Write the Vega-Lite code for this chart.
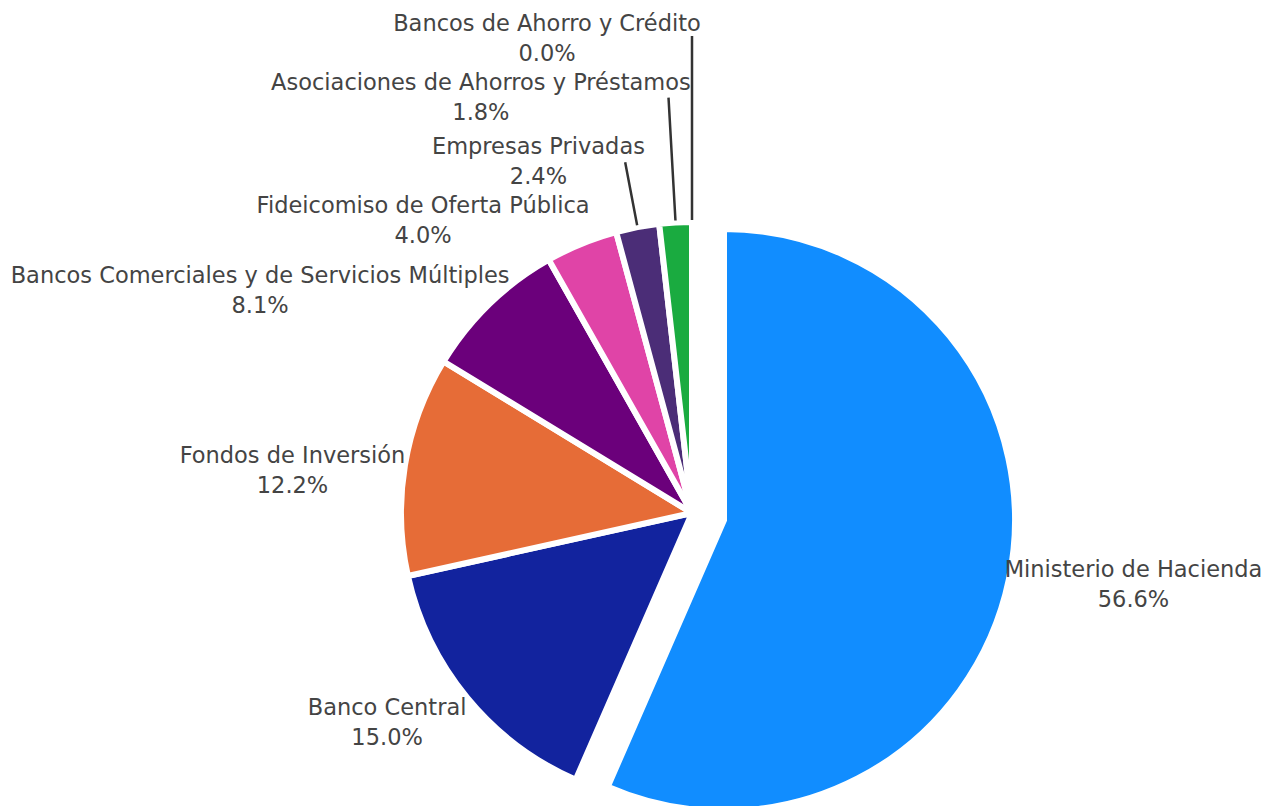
{
  "$schema": "https://vega.github.io/schema/vega-lite/v6.json",
  "width": 1174,
  "height": 586,
  "padding": {"left": 105, "top": 220, "right": 0, "bottom": 0},
  "autosize": {"type": "none"},
  "background": "white",
  "config": {"view": {"stroke": null}},
  "data": {
    "values": [
      {"name": "Ministerio de Hacienda", "share": 56.6},
      {"name": "Banco Central", "share": 15.0},
      {"name": "Fondos de Inversión", "share": 12.2},
      {"name": "Bancos Comerciales y de Servicios Múltiples", "share": 8.1},
      {"name": "Fideicomiso de Oferta Pública", "share": 4.0},
      {"name": "Empresas Privadas", "share": 2.4},
      {"name": "Asociaciones de Ahorros y Préstamos", "share": 1.8},
      {"name": "Bancos de Ahorro y Crédito", "share": 0.0}
    ]
  },
  "transform": [
    {"calculate": "[datum.name, format(datum.share, '.1f') + '%']", "as": "label"}
  ],
  "encoding": {
    "theta": {"field": "share", "type": "quantitative", "stack": true},
    "order": {"field": "share", "type": "quantitative", "sort": "descending"}
  },
  "layer": [
    {
      "mark": {"type": "arc", "outerRadius": 291, "stroke": "white", "strokeWidth": 6},
      "encoding": {
        "color": {
          "field": "name", "type": "nominal", "legend": null,
          "scale": {
            "domain": ["Ministerio de Hacienda", "Banco Central", "Fondos de Inversión", "Bancos Comerciales y de Servicios Múltiples", "Fideicomiso de Oferta Pública", "Empresas Privadas", "Asociaciones de Ahorros y Préstamos", "Bancos de Ahorro y Crédito"],
            "range": ["#118DFF", "#12239E", "#E66C37", "#6B007B", "#E044A7", "#4B2D77", "#1AAB40", "#D9B300"]
          }
        },
        "opacity": {"condition": {"test": "datum.name === 'Ministerio de Hacienda'", "value": 0}, "value": 1}
      }
    },
    {
      "mark": {"type": "arc", "outerRadius": 291, "stroke": "white", "strokeWidth": 6, "xOffset": 32, "yOffset": 7},
      "encoding": {
        "color": {
          "field": "name", "type": "nominal", "legend": null,
          "scale": {
            "domain": ["Ministerio de Hacienda", "Banco Central", "Fondos de Inversión", "Bancos Comerciales y de Servicios Múltiples", "Fideicomiso de Oferta Pública", "Empresas Privadas", "Asociaciones de Ahorros y Préstamos", "Bancos de Ahorro y Crédito"],
            "range": ["#118DFF", "#12239E", "#E66C37", "#6B007B", "#E044A7", "#4B2D77", "#1AAB40", "#D9B300"]
          }
        },
        "opacity": {"condition": {"test": "datum.name === 'Ministerio de Hacienda'", "value": 1}, "value": 0}
      }
    },
    {
      "transform": [
        {"stack": "share", "groupby": [], "sort": [{"field": "share", "order": "descending"}], "as": ["s0", "s1"]},
        {"calculate": "(datum.s0 + datum.s1) / 2", "as": "mid"},
        {"filter": "datum.name === 'Empresas Privadas'"}
      ],
      "mark": {"type": "arc", "innerRadius": 293, "outerRadius": 357, "filled": false, "stroke": "#333333", "strokeWidth": 2.5},
      "encoding": {
        "theta": {"field": "mid", "type": "quantitative", "stack": null},
        "theta2": {"field": "mid"}
      }
    },
    {
      "transform": [
        {"stack": "share", "groupby": [], "sort": [{"field": "share", "order": "descending"}], "as": ["s0", "s1"]},
        {"calculate": "(datum.s0 + datum.s1) / 2", "as": "mid"},
        {"filter": "datum.name === 'Asociaciones de Ahorros y Préstamos'"}
      ],
      "mark": {"type": "arc", "innerRadius": 293, "outerRadius": 416, "filled": false, "stroke": "#333333", "strokeWidth": 2.5},
      "encoding": {
        "theta": {"field": "mid", "type": "quantitative", "stack": null},
        "theta2": {"field": "mid"}
      }
    },
    {
      "transform": [
        {"stack": "share", "groupby": [], "sort": [{"field": "share", "order": "descending"}], "as": ["s0", "s1"]},
        {"calculate": "(datum.s0 + datum.s1) / 2", "as": "mid"},
        {"filter": "datum.name === 'Bancos de Ahorro y Crédito'"}
      ],
      "mark": {"type": "arc", "innerRadius": 293, "outerRadius": 477, "filled": false, "stroke": "#333333", "strokeWidth": 2.5},
      "encoding": {
        "theta": {"field": "mid", "type": "quantitative", "stack": null},
        "theta2": {"field": "mid"}
      }
    },
    {
      "mark": {"type": "text", "radius": 451, "dy": -35, "font": "DejaVu Sans", "fontSize": 22.5, "lineHeight": 30, "color": "#444444", "align": "center", "baseline": "middle"},
      "encoding": {"text": {"condition": {"test": "datum.name === 'Ministerio de Hacienda'", "field": "label"}, "value": ""}}
    },
    {
      "mark": {"type": "text", "radius": 395, "dy": -56, "font": "DejaVu Sans", "fontSize": 22.5, "lineHeight": 30, "color": "#444444", "align": "center", "baseline": "middle"},
      "encoding": {"text": {"condition": {"test": "datum.name === 'Banco Central'", "field": "label"}, "value": ""}}
    },
    {
      "mark": {"type": "text", "radius": 405, "dy": 9, "font": "DejaVu Sans", "fontSize": 22.5, "lineHeight": 30, "color": "#444444", "align": "center", "baseline": "middle"},
      "encoding": {"text": {"condition": {"test": "datum.name === 'Fondos de Inversión'", "field": "label"}, "value": ""}}
    },
    {
      "mark": {"type": "text", "radius": 460, "dx": -112, "dy": 94, "font": "DejaVu Sans", "fontSize": 22.5, "lineHeight": 30, "color": "#444444", "align": "center", "baseline": "middle"},
      "encoding": {"text": {"condition": {"test": "datum.name === 'Bancos Comerciales y de Servicios Múltiples'", "field": "label"}, "value": ""}}
    },
    {
      "mark": {"type": "text", "radius": 374, "dx": -127, "dy": 39, "font": "DejaVu Sans", "fontSize": 22.5, "lineHeight": 30, "color": "#444444", "align": "center", "baseline": "middle"},
      "encoding": {"text": {"condition": {"test": "datum.name === 'Fideicomiso de Oferta Pública'", "field": "label"}, "value": ""}}
    },
    {
      "mark": {"type": "text", "radius": 377, "dx": -83, "dy": 4, "font": "DejaVu Sans", "fontSize": 22.5, "lineHeight": 30, "color": "#444444", "align": "center", "baseline": "middle"},
      "encoding": {"text": {"condition": {"test": "datum.name === 'Empresas Privadas'", "field": "label"}, "value": ""}}
    },
    {
      "mark": {"type": "text", "radius": 427, "dx": -187, "dy": -4, "font": "DejaVu Sans", "fontSize": 22.5, "lineHeight": 30, "color": "#444444", "align": "center", "baseline": "middle"},
      "encoding": {"text": {"condition": {"test": "datum.name === 'Asociaciones de Ahorros y Préstamos'", "field": "label"}, "value": ""}}
    },
    {
      "mark": {"type": "text", "radius": 475, "dx": -145, "dy": -14, "font": "DejaVu Sans", "fontSize": 22.5, "lineHeight": 30, "color": "#444444", "align": "center", "baseline": "middle"},
      "encoding": {"text": {"condition": {"test": "datum.name === 'Bancos de Ahorro y Crédito'", "field": "label"}, "value": ""}}
    }
  ]
}
